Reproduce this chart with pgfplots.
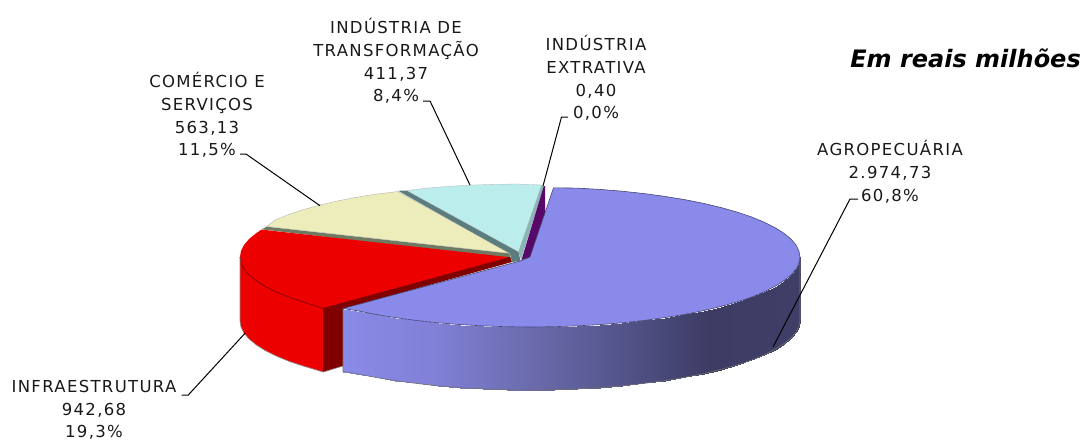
\documentclass[border=0pt]{standalone}
\usepackage{pgfplots}
\pgfplotsset{compat=1.18}
\usepackage{fontspec}
\setmainfont[LetterSpace=8]{DejaVu Sans}
\newfontfamily\titlefont{DejaVu Sans}
\definecolor{purpletop}{RGB}{138,138,235}
\definecolor{redtop}{RGB}{236,0,0}
\definecolor{reddark}{RGB}{128,0,0}
\definecolor{yellowtop}{RGB}{237,237,187}
\definecolor{bluetop}{RGB}{187,237,237}
\definecolor{rimolive}{RGB}{110,122,98}
\definecolor{rimteal}{RGB}{92,125,125}
\definecolor{rimlight}{RGB}{140,180,180}
\definecolor{violetdark}{RGB}{88,8,105}
\tikzset{lbl/.style={font=\fontsize{16.5}{22.8}\selectfont, align=center, text=black!90, inner sep=0pt}}
\begin{document}
\begin{tikzpicture}
\begin{axis}[
  width=1082pt, height=440pt, scale only axis,
  xmin=0, xmax=1082, ymin=0, ymax=440, y dir=reverse,
  hide axis, clip=false,
  colormap={side}{rgb255=(138,138,232) rgb255=(128,128,215) rgb255=(108,108,175) rgb255=(85,85,140) rgb255=(60,60,100) rgb255=(62,62,102)},
  point meta min=343, point meta max=800,
]
% keeps the page as large as the whole axis area
\addplot[draw=none] coordinates {(0,0) (1082,440)};
% light-blue slice: cut face and top
\addplot[fill=rimteal, draw=none] coordinates {(398.3,190.8) (407,190.5) (518.5,251.7) (520.5,261) (512,262) (510,254)} -- cycle;
% yellow rim
\addplot[fill=rimolive, draw=none] coordinates {(266.7,226.7) (509.3,253.3) (511,259) (261.7,229.3)} -- cycle;
% yellow top
\addplot[fill=yellowtop, draw=black!35, line width=0.3pt] coordinates {(509.3,253.3) (398,191.5) (374,194.4) (354.1,197.7) (335.4,201.4) (318.1,205.5) (302.2,210) (287.8,214.8) (275.2,220) (266.7,226.5)} -- cycle;
% light-blue top
\addplot[fill=bluetop, draw=black!30, line width=0.3pt] coordinates {(518.5,251.7) (541.7,185) (518,184) (494.5,184.3) (471.1,185.1) (448.1,186.4) (425.7,188.2) (406.7,190.5)} -- cycle;
% thin slice of the extractive industry
\addplot[fill=rimlight, draw=none] coordinates {(541.7,185) (543.8,186.5) (521,260) (518.5,251.7)} -- cycle;
\addplot[fill=violetdark, draw=none] coordinates {(543.8,186) (521.5,260) (530,257.5) (545,213) (545,186)} -- cycle;
% red side
\addplot[fill=redtop, draw=none] coordinates {(240,257) (241,263.1) (244.1,269.2) (249.2,275.1) (256.3,280.9) (265.3,286.6) (276.2,292) (288.8,297.2) (303.2,302) (323.3,308.3) (323.3,372) (303.2,366) (288.8,361.2) (276.2,356) (265.3,350.6) (256.3,344.9) (249.2,339.1) (244.1,333.2) (241,327.1) (240,321)} -- cycle;
% dark red cut face
\addplot[fill=reddark, draw=none] coordinates {(323.3,308.3) (510,257.3) (512,262) (343,309) (343,366) (323.3,372)} -- cycle;
% red top
\addplot[fill=redtop, draw=none] coordinates {(510,257.3) (261.5,229.6) (256.3,233.1) (249.2,238.9) (244.1,244.8) (241,250.9) (240,257) (241,263.1) (244.1,269.2) (249.2,275.1) (256.3,280.9) (265.3,286.6) (276.2,292) (288.8,297.2) (303.2,302) (323.3,308.3)} -- cycle;
\addplot[draw=reddark, line width=0.7pt] coordinates {(240,257) (241,263.1) (244.1,269.2) (249.2,275.1) (256.3,280.9) (265.3,286.6) (276.2,292) (288.8,297.2) (303.2,302) (323.3,308.3) (510,257.3)};
\addplot[draw=reddark, line width=0.5pt] coordinates {(323.3,308.3) (323.3,372)};
\addplot[draw=black!45, line width=0.6pt] coordinates {(240,257) (240,321) (241,327.1) (244.1,333.2) (249.2,339.1) (256.3,344.9) (265.3,350.6) (276.2,356) (288.8,361.2) (303.2,366) (323.3,372) (343,366)};
% purple side: one band per arc step, coloured along x
\addplot[patch, patch type=rectangle, shader=interp, point meta=x] coordinates {
(343,308.5) (356.4,310.6) (356.4,373.6) (343,371.5)
(356.4,310.6) (375.1,314.3) (375.1,377.3) (356.4,373.6)
(375.1,314.3) (395,317.6) (395,380.6) (375.1,377.3)
(395,317.6) (415.9,320.4) (415.9,383.4) (395,380.6)
(415.9,320.4) (437.7,322.8) (437.7,385.8) (415.9,383.4)
(437.7,322.8) (460.1,324.6) (460.1,387.6) (437.7,385.8)
(460.1,324.6) (483.1,325.9) (483.1,388.9) (460.1,387.6)
(483.1,325.9) (506.5,326.7) (506.5,389.7) (483.1,388.9)
(506.5,326.7) (530,327) (530,390) (506.5,389.7)
(530,327) (553.5,326.7) (553.5,389.7) (530,390)
(553.5,326.7) (576.9,325.9) (576.9,388.9) (553.5,389.7)
(576.9,325.9) (599.9,324.6) (599.9,387.6) (576.9,388.9)
(599.9,324.6) (622.3,322.8) (622.3,385.8) (599.9,387.6)
(622.3,322.8) (644.1,320.4) (644.1,383.4) (622.3,385.8)
(644.1,320.4) (665,317.6) (665,380.6) (644.1,383.4)
(665,317.6) (685,314.3) (685,377.3) (665,380.6)
(685,314.3) (703.6,310.6) (703.6,373.6) (685,377.3)
(703.6,310.6) (720.9,306.5) (720.9,369.5) (703.6,373.6)
(720.9,306.5) (736.8,302) (736.8,365) (720.9,369.5)
(736.8,302) (751.1,297.2) (751.1,360.2) (736.8,365)
(751.1,297.2) (763.8,292) (763.8,355) (751.1,360.2)
(763.8,292) (774.6,286.6) (774.6,349.6) (763.8,355)
(774.6,286.6) (783.7,280.9) (783.7,343.9) (774.6,349.6)
(783.7,280.9) (790.8,275.1) (790.8,338.1) (783.7,343.9)
(790.8,275.1) (795.9,269.2) (795.9,332.2) (790.8,338.1)
(795.9,269.2) (798.9,263.1) (798.9,326.1) (795.9,332.2)
(798.9,263.1) (800,257) (800,320) (798.9,326.1)
};
\addplot[draw=black!55, line width=0.6pt] coordinates {(343,308.5) (343,371.5) (356.4,373.6) (375.1,377.3) (395,380.6) (415.9,383.4) (437.7,385.8) (460.1,387.6) (483.1,388.9) (506.5,389.7) (530,390) (553.5,389.7) (576.9,388.9) (599.9,387.6) (622.3,385.8) (644.1,383.4) (665,380.6) (685,377.3) (703.6,373.6) (720.9,369.5) (736.8,365) (751.1,360.2) (763.8,355) (774.6,349.6) (783.7,343.9) (790.8,338.1) (795.9,332.2) (798.9,326.1) (800,320) (800,257)};
% purple top
\addplot[fill=purpletop, draw=black!50!purpletop, line width=0.6pt] coordinates {(553.5,187.8) (530,257) (520,261) (343,308.5) (356.4,310.6) (375.1,314.3) (395,317.6) (415.9,320.4) (437.7,322.8) (460.1,324.6) (483.1,325.9) (506.5,326.7) (530,327) (553.5,326.7) (576.9,325.9) (599.9,324.6) (622.3,322.8) (644.1,320.4) (665,317.6) (685,314.3) (703.6,310.6) (720.9,306.5) (736.8,302) (751.1,297.2) (763.8,292) (774.6,286.6) (783.7,280.9) (790.8,275.1) (795.9,269.2) (798.9,263.1) (800,257) (798.9,250.9) (795.9,244.8) (790.8,238.9) (783.7,233.1) (774.6,227.4) (763.8,222) (751.1,216.8) (736.8,212) (720.9,207.5) (703.6,203.4) (685,199.7) (665,196.4) (644.1,193.6) (622.3,191.2) (599.9,189.4) (576.9,188.1)} -- cycle;
% leader lines
\addplot[black, line width=1pt] coordinates {(858,199) (850,199) (773,347)};
\addplot[black, line width=1pt] coordinates {(181.7,395) (188.3,395) (245,333.3)};
\addplot[black, line width=1pt] coordinates {(240,154) (246,154) (320,205.7)};
\addplot[black, line width=1pt] coordinates {(423,101) (430,101) (470,185)};
\addplot[black, line width=1pt] coordinates {(568,117) (561.5,117) (543,186)};
% labels
\node[lbl] at (axis cs:396,61) {INDÚSTRIA DE\\TRANSFORMAÇÃO\\411,37\\8,4\%};
\node[lbl] at (axis cs:596,78) {INDÚSTRIA\\EXTRATIVA\\0,40\\0,0\%};
\node[lbl] at (axis cs:207,115) {COMÉRCIO E\\SERVIÇOS\\563,13\\11,5\%};
\node[lbl] at (axis cs:890,172) {AGROPECUÁRIA\\2.974,73\\60,8\%};
\node[lbl] at (axis cs:94,410) {INFRAESTRUTURA\\942,68\\19,3\%};
\node[font=\fontsize{24}{28}\selectfont\titlefont\bfseries\itshape, anchor=east, inner sep=0pt] at (axis cs:1081,58) {Em reais milhões};
\end{axis}
\end{tikzpicture}
\end{document}
